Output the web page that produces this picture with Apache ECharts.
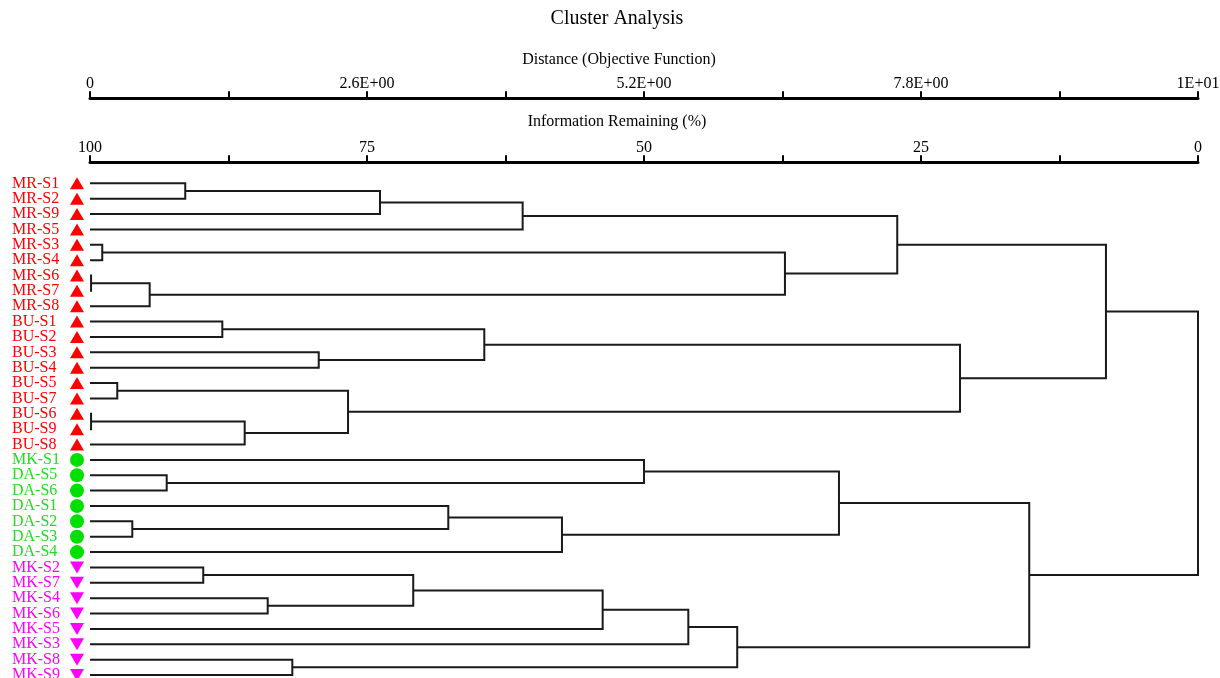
<!DOCTYPE html>
<html><head><meta charset="utf-8">
<script src="https://cdn.jsdelivr.net/npm/echarts@6/dist/echarts.min.js"></script>
<style>html,body{margin:0;padding:0;background:#fff}#c{width:1220px;height:678px}</style>
</head><body><div id="c"></div>
<script>
// Leaves (top to bottom)
const leaves = ['MR-S1','MR-S2','MR-S9','MR-S5','MR-S3','MR-S4','MR-S6','MR-S7','MR-S8',
  'BU-S1','BU-S2','BU-S3','BU-S4','BU-S5','BU-S7','BU-S6','BU-S9','BU-S8',
  'MK-S1','DA-S5','DA-S6','DA-S1','DA-S2','DA-S3','DA-S4',
  'MK-S2','MK-S7','MK-S4','MK-S6','MK-S5','MK-S3','MK-S8','MK-S9'];
// group of each leaf: 0 = red triangle, 1 = green circle, 2 = magenta inverted triangle
const leafGroups = [0,0,0,0,0,0,0,0,0, 0,0,0,0,0,0,0,0,0, 1,1,1,1,1,1,1, 2,2,2,2,2,2,2,2];
const groupLabelColors = ['#ff0000','#1fe01f','#ff00ff'];
const groupMarkerColors = ['#ff0000','#00e000','#ff00ff'];

// Merges (cluster k is named 'c'+k), distance = objective function
const mergeA = ['MR-S1','c0','c1','MR-S3','MR-S6','c4','c3','c2',
  'BU-S1','BU-S3','c8','BU-S5','BU-S6','c12','c11','c10','c7',
  'DA-S5','MK-S1','DA-S2','DA-S1','c20','c18',
  'MK-S2','MK-S4','c23','c25','c26','MK-S8','c27','c22','c16'];
const mergeB = ['MR-S2','MR-S9','MR-S5','MR-S4','MR-S7','MR-S8','c5','c6',
  'BU-S2','BU-S4','c9','BU-S7','BU-S9','BU-S8','c13','c14','c15',
  'DA-S6','c17','DA-S3','c19','DA-S4','c21',
  'MK-S7','MK-S6','c24','MK-S5','MK-S3','MK-S9','c28','c29','c30'];
const mergeDist = [0.894, 2.722, 4.061, 0.115, 0.01, 0.560, 6.523, 7.577,
  1.242, 2.147, 3.701, 0.256, 0.01, 1.452, 2.422, 8.166, 9.536,
  0.720, 5.200, 0.397, 3.363, 4.430, 7.030,
  1.063, 1.668, 3.034, 4.812, 5.616, 1.899, 6.075, 8.816, 10.4];

// Axis ticks
const distTickValues = [0, 2.6, 5.2, 7.8, 10.4];
const distTickLabels = ['0','2.6E+00','5.2E+00','7.8E+00','1E+01'];
const infoTickValues = [100, 75, 50, 25, 0];
const infoTickLabels = ['100','75','50','25','0'];

const FONT = '"Liberation Serif", "Times New Roman", serif';

// Build dendrogram links
const nodeX = {}, nodeY = {};
leaves.forEach((n, i) => { nodeX[n] = 0; nodeY[n] = i; });
const links = [];
mergeA.forEach((a, k) => {
  const b = mergeB[k], d = mergeDist[k], id = 'c' + k;
  links.push({ coords: [[nodeX[a], nodeY[a]], [d, nodeY[a]], [d, nodeY[b]], [nodeX[b], nodeY[b]]] });
  nodeX[id] = d; nodeY[id] = (nodeY[a] + nodeY[b]) / 2;
});

function markerData(g) {
  const out = [];
  leaves.forEach((n, i) => { if (leafGroups[i] === g) out.push([0, i]); });
  return out;
}
const labelData = leaves.map((n, i) => ({ value: [0, i], name: n, label: { color: groupLabelColors[leafGroups[i]] } }));
function pickLabel(vals, labels, v) {
  for (let i = 0; i < vals.length; i++) if (Math.abs(vals[i] - v) < 1e-6) return labels[i];
  return '';
}

const chart = echarts.init(document.getElementById('c'), null, { renderer: 'canvas' });
const axisCommon = {
  position: 'top',
  axisLine: { show: true, onZero: false, lineStyle: { color: '#000', width: 3 } },
  axisTick: { show: true, length: 7, lineStyle: { color: '#000', width: 2 } },
  splitLine: { show: false },
  axisLabel: { color: '#000', fontFamily: FONT, fontSize: 16, margin: 7, showMinLabel: true, showMaxLabel: true }
};
chart.setOption({
  animation: false,
  backgroundColor: '#fff',
  graphic: [
    { type: 'text', x: 617, y: 19, style: { text: 'Cluster Analysis', fill: '#000', font: '20px ' + FONT, align: 'center', verticalAlign: 'middle', textAlign: 'center', textVerticalAlign: 'middle' } },
    { type: 'text', x: 619, y: 60, style: { text: 'Distance (Objective Function)', fill: '#000', font: '16px ' + FONT, align: 'center', verticalAlign: 'middle', textAlign: 'center', textVerticalAlign: 'middle' } },
    { type: 'text', x: 617, y: 122, style: { text: 'Information Remaining (%)', fill: '#000', font: '16px ' + FONT, align: 'center', verticalAlign: 'middle', textAlign: 'center', textVerticalAlign: 'middle' } }
  ],
  grid: { left: 90, right: 22, top: 183.3, bottom: 3, containLabel: false, outerBoundsMode: 'none' },
  xAxis: [
    Object.assign({}, axisCommon, {
      type: 'value', min: 0, max: 10.4, interval: 1.3, offset: 85,
      axisLabel: Object.assign({}, axisCommon.axisLabel, {
        formatter: v => pickLabel(distTickValues, distTickLabels, v)
      })
    }),
    Object.assign({}, axisCommon, {
      type: 'value', min: 0, max: 100, interval: 12.5, inverse: true, offset: 21,
      axisLabel: Object.assign({}, axisCommon.axisLabel, {
        formatter: v => pickLabel(infoTickValues, infoTickLabels, v)
      })
    })
  ],
  yAxis: {
    type: 'value', min: 0, max: 32, interval: 1, inverse: true, position: 'left',
    axisLine: { show: false }, axisTick: { show: false }, splitLine: { show: false },
    axisLabel: { show: false }
  },
  series: [
    {
      type: 'lines', coordinateSystem: 'cartesian2d', xAxisIndex: 0, yAxisIndex: 0,
      polyline: true, silent: true, clip: false,
      lineStyle: { color: '#1a1a1a', width: 2, opacity: 1, curveness: 0 },
      data: links
    },
    { type: 'scatter', xAxisIndex: 0, yAxisIndex: 0, clip: false, silent: true,
      symbol: 'circle', symbolSize: 2, itemStyle: { color: 'rgba(0,0,0,0)', opacity: 1 },
      label: { show: true, position: [-77, 1], align: 'left', verticalAlign: 'middle', opacity: 1,
        fontFamily: FONT, fontSize: 16, formatter: p => p.name },
      labelLayout: { hideOverlap: false },
      data: labelData },
    { type: 'scatter', xAxisIndex: 0, yAxisIndex: 0, clip: false, silent: true,
      symbol: 'triangle', symbolSize: [14, 12], symbolOffset: [-13, 0],
      itemStyle: { color: groupMarkerColors[0], opacity: 1 }, data: markerData(0) },
    { type: 'scatter', xAxisIndex: 0, yAxisIndex: 0, clip: false, silent: true,
      symbol: 'circle', symbolSize: 14, symbolOffset: [-13, 0],
      itemStyle: { color: groupMarkerColors[1], opacity: 1 }, data: markerData(1) },
    { type: 'scatter', xAxisIndex: 0, yAxisIndex: 0, clip: false, silent: true,
      symbol: 'triangle', symbolRotate: 180, symbolSize: [14, 12], symbolOffset: [-13, 0],
      itemStyle: { color: groupMarkerColors[2], opacity: 1 }, data: markerData(2) }
  ]
});
</script></body></html>
